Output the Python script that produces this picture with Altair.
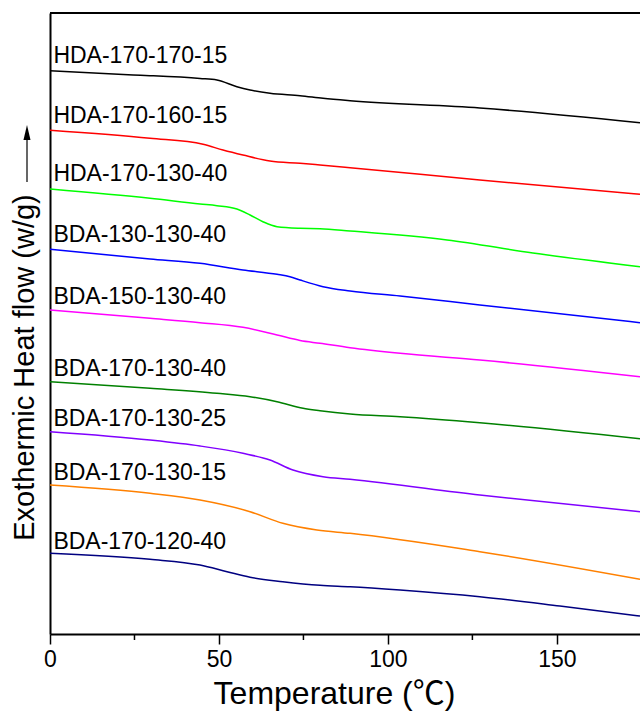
import altair as alt
import pandas as pd

# ---- data (heat flow in arbitrary units, offset curves) ----
series_names = ["HDA-170-170-15", "HDA-170-160-15", "HDA-170-130-40", "BDA-130-130-40",
                "BDA-150-130-40", "BDA-170-130-40", "BDA-170-130-25", "BDA-170-130-15",
                "BDA-170-120-40"]
series_colors = ["#000000", "#FF0000", "#00FF00", "#0000FF", "#FF00FF",
                 "#008000", "#8000FF", "#FF8000", "#000080"]

t_hda_170_170_15 = [0, 24.6, 29.6, 44.4, 49.4, 55.3, 59.2, 65.1, 74.0, 80.8, 88.8, 127.2, 174.6]
hf_hda_170_170_15 = [563.3, 559.0, 558.3, 555.5, 554.0, 547.3, 544.0, 540.7, 538.3, 535.7, 533.3, 526.0, 511.3]

t_hda_170_160_15 = [0, 29.6, 45.3, 51.2, 57.1, 65.1, 74.0, 79.9, 88.8, 127.2, 174.6]
hf_hda_170_160_15 = [503.7, 495.7, 489.7, 484.0, 479.0, 473.0, 470.7, 469.0, 466.3, 454.0, 439.7]

t_hda_170_130_40 = [0, 29.6, 44.4, 49.4, 55.3, 59.2, 63.0, 67.2, 74.0, 79.9, 88.8, 117.5, 142.9, 174.6]
hf_hda_170_130_40 = [445.0, 435.7, 430.0, 428.3, 425.0, 419.0, 412.3, 407.3, 405.7, 405.3, 403.0, 394.0, 381.0, 367.3]

t_bda_130_130_40 = [0, 29.6, 44.4, 57.1, 67.2, 71.0, 74.0, 80.8, 88.8, 103.6, 127.2, 174.6]
hf_bda_130_130_40 = [384.7, 375.0, 370.7, 364.0, 359.7, 357.3, 354.0, 347.3, 343.0, 338.0, 329.0, 311.3]

t_bda_150_130_40 = [0, 29.6, 44.4, 57.1, 67.2, 74.0, 79.9, 88.8, 103.6, 127.2, 174.6]
hf_bda_150_130_40 = [324.0, 315.7, 311.3, 306.7, 299.0, 293.5, 290.7, 286.3, 280.7, 274.0, 257.3]

t_bda_170_130_40 = [0, 29.6, 49.4, 59.2, 67.2, 74.9, 79.9, 88.8, 103.6, 127.2, 174.6]
hf_bda_170_130_40 = [252.3, 245.7, 240.7, 237.3, 232.3, 225.7, 223.3, 220.0, 217.3, 211.3, 195.3]

t_bda_170_130_25 = [0, 29.6, 44.4, 57.1, 65.1, 71.9, 80.8, 88.8, 127.2, 174.6]
hf_bda_170_130_25 = [202.3, 194.0, 188.0, 180.7, 174.0, 164.0, 157.3, 154.7, 139.0, 122.3]

t_bda_170_130_15 = [0, 29.6, 44.4, 59.2, 68.9, 79.0, 88.8, 127.2, 174.6]
hf_bda_170_130_15 = [149.0, 140.7, 134.0, 122.3, 110.7, 104.0, 100.7, 82.3, 54.7]

t_bda_170_120_40 = [0, 29.6, 44.4, 52.4, 59.2, 68.9, 79.9, 88.8, 103.6, 127.2, 150.9, 174.6]
hf_bda_170_120_40 = [80.7, 74.7, 69.0, 62.3, 56.7, 52.3, 48.7, 47.3, 44.0, 37.3, 28.0, 18.0]

label_t = [1.0] * 9
label_hf = [571, 511, 453, 392, 330, 258, 208, 154, 85]

major_ticks = [0, 50, 100, 150]
minor_ticks = [25, 75, 125]

# ---- build tables ----
all_t = [t_hda_170_170_15, t_hda_170_160_15, t_hda_170_130_40, t_bda_130_130_40,
         t_bda_150_130_40, t_bda_170_130_40, t_bda_170_130_25, t_bda_170_130_15,
         t_bda_170_120_40]
all_hf = [hf_hda_170_170_15, hf_hda_170_160_15, hf_hda_170_130_40, hf_bda_130_130_40,
          hf_bda_150_130_40, hf_bda_170_130_40, hf_bda_170_130_25, hf_bda_170_130_15,
          hf_bda_170_120_40]
rows = []
for name, ts, hs in zip(series_names, all_t, all_hf):
    for t, h in zip(ts, hs):
        rows.append({"series": name, "T": t, "HF": h})
df = pd.DataFrame(rows)
df_labels = pd.DataFrame({"series": series_names, "T": label_t, "HF": label_hf})
df_minor = pd.DataFrame({"T": minor_ticks})

FONT = "Liberation Sans, Arial, Noto Sans CJK SC"
W, H = 590, 621

x_enc = alt.X("T:Q",
              scale=alt.Scale(domain=[0, 174.6], nice=False, zero=False),
              axis=alt.Axis(values=major_ticks, title="Temperature (℃)",
                            grid=False, tickSize=10, tickWidth=1.5, tickColor="black",
                            domainWidth=2, domainColor="black",
                            labelFontSize=23, labelFont=FONT, labelColor="black",
                            labelPadding=4, labelFlush=False,
                            titleFontSize=32, titleFont=FONT, titleFontWeight="normal",
                            titleColor="black", titleX=284, titleY=69,
                            titleAlign="center", titleBaseline="alphabetic"))
y_enc = alt.Y("HF:Q",
              scale=alt.Scale(domain=[0, 621], nice=False, zero=False),
              axis=alt.Axis(title="Exothermic Heat flow (w/g)", labels=False, ticks=False,
                            grid=False, domainWidth=2, domainColor="black",
                            titleFontSize=29, titleFont=FONT, titleFontWeight="normal",
                            titleColor="black", titleAngle=270, titleX=-17, titleY=354,
                            titleAlign="center", titleBaseline="alphabetic"))

lines = alt.Chart(df).mark_line(strokeWidth=1.5, interpolate="monotone", clip=True).encode(
    x=x_enc, y=y_enc,
    color=alt.Color("series:N", scale=alt.Scale(domain=series_names, range=series_colors),
                    legend=None),
)

labels = alt.Chart(df_labels).mark_text(align="left", baseline="alphabetic", fontSize=23,
                                        font=FONT, color="black").encode(
    x=x_enc, y=y_enc, text="series:N")

minor = alt.Chart(df_minor).mark_rule(color="black", strokeWidth=1.5).encode(
    x=x_enc, y=alt.value(H), y2=alt.value(H + 6))

one = pd.DataFrame({"a": [0]})
top_border = alt.Chart(one).mark_rule(color="black", strokeWidth=2).encode(
    x=alt.value(0), x2=alt.value(W), y=alt.value(0))
arrow_line = alt.Chart(one).mark_rule(color="black", strokeWidth=1.2).encode(
    x=alt.value(-23), x2=alt.value(-23), y=alt.value(169), y2=alt.value(122))
arrow_head = alt.Chart(one).mark_point(shape="M0,-1L0.47,1L-0.47,1Z", filled=True,
                                       color="black", size=225, opacity=1).encode(
    x=alt.value(-23), y=alt.value(119.5))

chart = alt.layer(lines, labels, minor, top_border, arrow_line, arrow_head).properties(
    width=W, height=H,
    autosize=alt.AutoSizeParams(type="none"),
    padding={"left": 50, "top": 13, "right": 0, "bottom": 78},
).configure_view(stroke=None).configure(background="white")

chart.save("out.html", embed_options={"renderer": "svg", "actions": False})
